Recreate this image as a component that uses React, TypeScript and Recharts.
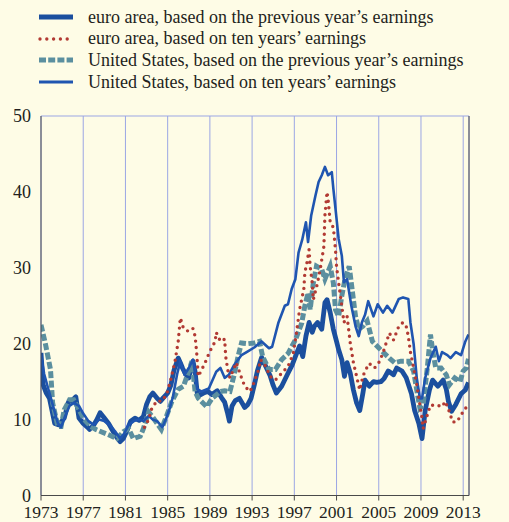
import { CartesianGrid, Line, LineChart, XAxis, YAxis } from "recharts"

// [year, P/E]
const euroPrev: [number, number][] = [
    [1973.0, 18.8], [1973.2, 14.6], [1973.5, 13.5], [1973.8, 12.8], [1974.3, 9.5], [1974.7, 9.3],
    [1975.2, 10.2], [1975.6, 12.3], [1976.0, 12.6], [1976.3, 13.0], [1976.6, 10.2], [1977.0, 9.5],
    [1977.4, 9.0], [1977.6, 8.7], [1978.0, 9.3], [1978.3, 10.0], [1978.6, 10.9], [1979.0, 10.2],
    [1979.4, 9.5], [1979.85, 8.4], [1980.2, 7.6], [1980.5, 7.1], [1980.8, 7.5], [1981.1, 8.4],
    [1981.5, 9.8], [1981.9, 10.2], [1982.3, 9.9], [1982.7, 10.4], [1983.0, 12.0], [1983.3, 13.0],
    [1983.6, 13.5], [1984.0, 12.8], [1984.3, 12.4], [1984.6, 12.9], [1985.0, 13.5], [1985.3, 14.5],
    [1985.6, 16.5], [1986.0, 18.1], [1986.2, 17.5], [1986.4, 16.8], [1986.7, 16.0], [1987.0, 15.5],
    [1987.4, 17.7], [1987.6, 16.3], [1987.8, 13.5], [1988.0, 13.2], [1988.4, 13.5], [1988.8, 13.7],
    [1989.2, 13.3], [1989.7, 13.8], [1990.1, 12.9], [1990.4, 12.3], [1990.65, 11.0], [1990.85, 9.8],
    [1991.1, 11.8], [1991.4, 12.5], [1991.8, 12.8], [1992.3, 11.6], [1992.6, 12.0], [1992.9, 12.8],
    [1993.2, 14.5], [1993.5, 16.4], [1993.9, 18.2], [1994.3, 17.0], [1994.7, 15.8], [1995.0, 14.5],
    [1995.3, 13.5], [1995.8, 14.4], [1996.4, 16.1], [1996.8, 17.2], [1997.1, 18.3], [1997.5, 19.7],
    [1997.8, 18.3], [1998.1, 21.0], [1998.4, 22.8], [1998.7, 21.5], [1998.9, 22.3], [1999.2, 22.8],
    [1999.6, 21.9], [1999.9, 25.4], [2000.1, 25.8], [2000.4, 24.1], [2000.7, 21.9], [2001.0, 20.3],
    [2001.2, 19.2], [2001.5, 17.9], [2001.75, 15.7], [2002.0, 17.5], [2002.3, 16.1], [2002.6, 13.9],
    [2002.9, 12.2], [2003.2, 11.2], [2003.5, 13.5], [2003.7, 15.2], [2004.1, 14.4], [2004.5, 15.0],
    [2004.8, 14.9], [2005.2, 15.0], [2005.5, 15.4], [2005.9, 16.4], [2006.4, 15.9], [2006.7, 16.8],
    [2007.2, 16.4], [2007.6, 15.5], [2008.1, 13.4], [2008.4, 11.2], [2008.8, 9.5], [2009.1, 7.5],
    [2009.4, 11.2], [2009.8, 13.9], [2010.1, 15.2], [2010.6, 14.4], [2011.1, 15.2], [2011.4, 14.0],
    [2011.6, 12.4], [2011.9, 11.1], [2012.3, 12.0], [2012.8, 13.4], [2013.2, 13.9], [2013.5, 14.9],
]

const euroTen: [number, number][] = [
    [1982.8, 9.0], [1983.2, 10.0], [1983.5, 11.5], [1984.0, 12.5], [1984.4, 12.4], [1984.9, 13.3],
    [1985.3, 15.3], [1985.7, 17.7], [1986.0, 20.3], [1986.2, 23.4], [1986.5, 22.0], [1987.0, 21.6],
    [1987.4, 22.0], [1987.6, 21.0], [1987.75, 18.8], [1987.9, 15.7], [1988.2, 16.5], [1988.55, 17.5],
    [1989.0, 19.0], [1989.5, 20.3], [1989.6, 21.5], [1990.0, 20.3], [1990.4, 20.6], [1990.5, 18.3],
    [1990.7, 16.5], [1990.9, 15.5], [1991.2, 16.5], [1991.5, 17.5], [1992.0, 15.5], [1992.3, 14.4],
    [1992.8, 13.7], [1993.1, 14.6], [1993.6, 16.5], [1993.8, 17.9], [1994.3, 17.0], [1994.7, 15.7],
    [1995.2, 15.2], [1995.8, 16.1], [1996.4, 17.0], [1996.9, 18.7], [1997.2, 21.4], [1997.5, 24.5],
    [1997.9, 27.2], [1998.0, 29.4], [1998.2, 30.7], [1998.4, 32.4], [1998.5, 30.2], [1998.7, 28.0],
    [1998.8, 25.8], [1999.2, 28.0], [1999.5, 30.2], [1999.8, 32.8], [1999.9, 36.9], [2000.1, 40.0],
    [2000.2, 39.0], [2000.4, 36.0], [2000.7, 35.3], [2000.9, 32.4], [2001.0, 30.2], [2001.2, 28.0],
    [2001.5, 25.0], [2001.7, 22.8], [2002.0, 23.6], [2002.3, 20.1], [2002.6, 17.5], [2002.9, 15.7],
    [2003.2, 13.9], [2003.5, 15.7], [2003.7, 16.4], [2004.1, 17.4], [2004.6, 16.8], [2005.1, 17.7],
    [2005.5, 19.2], [2006.0, 21.4], [2006.4, 20.5], [2006.9, 22.3], [2007.3, 22.8], [2007.6, 22.3],
    [2007.8, 21.0], [2008.0, 18.9], [2008.3, 16.8], [2008.6, 14.6], [2008.8, 12.8], [2009.1, 10.2],
    [2009.2, 8.8], [2009.6, 10.6], [2009.9, 11.9], [2010.5, 11.9], [2011.0, 11.7], [2011.3, 12.4],
    [2011.7, 11.0], [2012.0, 9.7], [2012.4, 9.7], [2012.8, 10.6], [2013.2, 11.5], [2013.5, 11.7],
]

const usPrev: [number, number][] = [
    [1973.0, 22.5], [1973.4, 20.1], [1973.9, 16.6], [1974.1, 12.2], [1974.6, 9.1], [1974.9, 9.1],
    [1975.2, 11.3], [1975.7, 12.6], [1976.1, 12.6], [1976.6, 11.3], [1977.1, 10.0], [1977.7, 9.1],
    [1978.2, 8.7], [1978.7, 8.4], [1979.4, 8.0], [1980.2, 7.5], [1980.8, 8.4], [1981.3, 8.8],
    [1981.75, 7.5], [1982.4, 7.8], [1982.7, 8.8], [1983.2, 11.0], [1983.6, 10.3], [1984.0, 9.5],
    [1984.4, 8.7], [1984.9, 10.5], [1985.4, 12.4], [1986.0, 14.0], [1986.5, 14.4], [1987.0, 16.4],
    [1987.3, 17.7], [1987.6, 13.7], [1987.9, 12.8], [1988.7, 11.7], [1989.2, 12.8], [1990.0, 13.7],
    [1990.4, 13.8], [1990.9, 13.7], [1991.3, 15.9], [1991.7, 18.5], [1992.0, 20.1], [1992.6, 20.0],
    [1993.2, 20.1], [1993.7, 20.3], [1994.0, 18.3], [1994.6, 16.6], [1995.2, 16.6], [1995.8, 17.9],
    [1996.4, 18.7], [1997.1, 20.5], [1997.7, 22.7], [1998.0, 25.0], [1998.3, 26.7], [1998.5, 24.5],
    [1998.8, 28.0], [1999.1, 30.2], [1999.6, 29.8], [1999.9, 28.5], [2000.4, 30.2], [2000.7, 28.0],
    [2000.9, 24.5], [2001.2, 23.6], [2001.5, 26.3], [2001.8, 28.5], [2002.2, 30.2], [2002.4, 28.0],
    [2002.8, 23.6], [2003.1, 21.9], [2003.5, 22.3], [2003.9, 23.0], [2004.4, 20.3], [2004.9, 19.6],
    [2005.4, 18.9], [2006.0, 18.1], [2006.5, 17.5], [2007.1, 17.7], [2007.8, 17.7], [2008.3, 16.4],
    [2008.6, 13.9], [2008.9, 11.5], [2009.2, 11.9], [2009.6, 16.8], [2009.9, 21.2], [2010.1, 19.2],
    [2010.4, 16.8], [2010.9, 16.8], [2011.4, 15.9], [2011.7, 14.6], [2012.2, 15.5], [2012.7, 15.0],
    [2013.0, 16.4], [2013.3, 16.8], [2013.5, 18.0],
]

const usTen: [number, number][] = [
    [1973.0, 18.5], [1973.3, 16.0], [1973.7, 14.0], [1974.2, 11.5], [1974.6, 9.5], [1974.9, 9.0],
    [1975.3, 10.5], [1975.7, 11.8], [1976.1, 12.2], [1976.6, 11.8], [1977.0, 10.8], [1977.5, 9.8],
    [1978.0, 9.3], [1978.5, 10.0], [1979.0, 9.8], [1979.5, 9.3], [1980.0, 8.5], [1980.5, 7.5],
    [1980.9, 8.2], [1981.3, 9.3], [1981.8, 9.8], [1982.3, 10.0], [1982.7, 9.8], [1983.2, 10.5],
    [1983.6, 10.0], [1984.0, 9.8], [1984.5, 9.0], [1984.9, 10.3], [1985.2, 11.5], [1985.5, 13.0],
    [1985.9, 16.0], [1986.2, 17.7], [1986.6, 15.9], [1987.0, 16.8], [1987.4, 17.9], [1987.6, 16.0],
    [1987.8, 14.0], [1988.2, 13.7], [1988.9, 14.1], [1989.6, 16.3], [1990.0, 16.8], [1990.4, 15.5],
    [1990.8, 15.9], [1991.3, 17.2], [1992.0, 18.5], [1992.6, 19.0], [1993.2, 19.5], [1993.9, 20.3],
    [1994.6, 19.4], [1994.9, 19.6], [1995.5, 22.8], [1996.1, 25.0], [1996.4, 25.2], [1996.75, 27.2],
    [1997.1, 28.5], [1997.4, 32.0], [1997.75, 33.7], [1998.1, 36.0], [1998.3, 33.4], [1998.6, 36.9],
    [1999.0, 39.5], [1999.3, 41.3], [1999.6, 42.2], [1999.9, 43.3], [2000.2, 42.2], [2000.55, 42.6],
    [2000.7, 40.4], [2000.9, 37.8], [2001.2, 33.8], [2001.5, 31.6], [2001.7, 28.1], [2002.0, 28.5],
    [2002.4, 25.0], [2002.8, 22.3], [2003.1, 21.0], [2003.4, 22.8], [2003.7, 23.8], [2004.0, 25.6],
    [2004.5, 23.6], [2004.9, 25.2], [2005.4, 24.1], [2005.8, 25.0], [2006.3, 24.1], [2006.9, 25.9],
    [2007.3, 26.1], [2007.8, 25.9], [2008.0, 22.8], [2008.3, 20.0], [2008.6, 15.5], [2008.9, 12.8],
    [2009.1, 12.8], [2009.4, 15.5], [2009.9, 18.1], [2010.4, 19.6], [2010.7, 17.7], [2011.0, 18.9],
    [2011.5, 18.5], [2011.8, 18.1], [2012.3, 18.9], [2012.8, 18.5], [2013.2, 20.3], [2013.5, 21.2],
]

const yearTicks = [1973, 1977, 1981, 1985, 1989, 1993, 1997, 2001, 2005, 2009, 2013]
const valueTicks = [0, 10, 20, 30, 40, 50]

const legendLabels = [
    "euro area, based on the previous year\u2019s earnings",
    "euro area, based on ten years\u2019 earnings",
    "United States, based on the previous year\u2019s earnings",
    "United States, based on ten years\u2019 earnings",
]

const BG = "#fefce6"
const THICK_BLUE = "#1b4f9e"
const THIN_BLUE = "#1f55b0"
const RED = "#b23a33"
const TEAL = "#5b8f9f"
const GRID = "#9ba6e4"
const AXIS = "#4a4a4a"
const INK = "#231f20"
const FONT = '"Liberation Serif", "DejaVu Serif", serif'

const toRows = (pairs: [number, number][]) => pairs.map(([t, v]) => ({ t, v }))

const yTickStyle = { fontSize: 18, fill: INK, fontFamily: FONT, style: { fontFamily: FONT } }
const xTickStyle = { fontSize: 17.5, fill: INK, fontFamily: FONT, style: { fontFamily: FONT } }

function LegendSymbol({ i }: { i: number }) {
    return (
        <svg width={36} height={10} style={{ display: "block" }}>
            {i === 0 && <line x1={1} y1={5} x2={35} y2={5} stroke={THICK_BLUE} strokeWidth={5} />}
            {i === 1 && (
                <line x1={2} y1={5} x2={35} y2={5} stroke={RED} strokeWidth={3.4}
                    strokeDasharray="0 6.8" strokeLinecap="round" />
            )}
            {i === 2 && (
                <line x1={1} y1={5} x2={35} y2={5} stroke={TEAL} strokeWidth={5} strokeDasharray="7 2.2" />
            )}
            {i === 3 && <line x1={1} y1={5} x2={35} y2={5} stroke={THIN_BLUE} strokeWidth={3} />}
        </svg>
    )
}

export default function App() {
    return (
        <div style={{ position: "absolute", left: 0, top: 0, width: 509, height: 522, background: BG, fontFamily: FONT }}>
            {legendLabels.map((label, i) => (
                <div
                    key={label}
                    style={{
                        position: "absolute", left: 38, top: 6 + i * 21.7, height: 22,
                        display: "flex", alignItems: "center", color: INK, fontSize: 18,
                        fontFamily: FONT, whiteSpace: "nowrap",
                    }}
                >
                    <LegendSymbol i={i} />
                    <span style={{ marginLeft: 14 }}>{label}</span>
                </div>
            ))}
            <div style={{ position: "absolute", left: 0, top: 0 }}>
                <LineChart width={509} height={522} margin={{ top: 116, right: 0, bottom: 0, left: 0 }}
                    style={{ fontFamily: FONT }}>
                    <CartesianGrid stroke={GRID} strokeWidth={1} />
                    <XAxis
                        dataKey="t"
                        type="number"
                        domain={[1973, 2013.55]}
                        ticks={yearTicks}
                        allowDataOverflow
                        height={26.5}
                        tickSize={5}
                        tickMargin={5}
                        stroke={AXIS}
                        tick={xTickStyle}
                        interval={0}
                    />
                    <YAxis
                        yAxisId="left"
                        domain={[0, 50]}
                        ticks={valueTicks}
                        width={41}
                        tickLine={false}
                        tickMargin={4}
                        stroke={AXIS}
                        tick={yTickStyle}
                    />
                    <YAxis
                        yAxisId="right"
                        orientation="right"
                        domain={[0, 50]}
                        ticks={valueTicks}
                        width={40}
                        tickLine={false}
                        tickMargin={5}
                        stroke={AXIS}
                        tick={yTickStyle}
                    />
                    <Line
                        yAxisId="left"
                        data={toRows(euroPrev)}
                        dataKey="v"
                        stroke={THICK_BLUE}
                        strokeWidth={4.8}
                        strokeLinejoin="round"
                        dot={false}
                        isAnimationActive={false}
                    />
                    <Line
                        yAxisId="left"
                        data={toRows(usPrev)}
                        dataKey="v"
                        stroke={TEAL}
                        strokeWidth={5}
                        strokeDasharray="7 2.5"
                        dot={false}
                        isAnimationActive={false}
                    />
                    <Line
                        yAxisId="left"
                        data={toRows(usTen)}
                        dataKey="v"
                        stroke={THIN_BLUE}
                        strokeWidth={2.6}
                        strokeLinejoin="round"
                        dot={false}
                        isAnimationActive={false}
                    />
                    <Line
                        yAxisId="left"
                        data={toRows(euroTen)}
                        dataKey="v"
                        stroke={RED}
                        strokeWidth={3.4}
                        strokeDasharray="0 6.5"
                        strokeLinecap="round"
                        dot={false}
                        isAnimationActive={false}
                    />
                </LineChart>
            </div>
        </div>
    )
}
